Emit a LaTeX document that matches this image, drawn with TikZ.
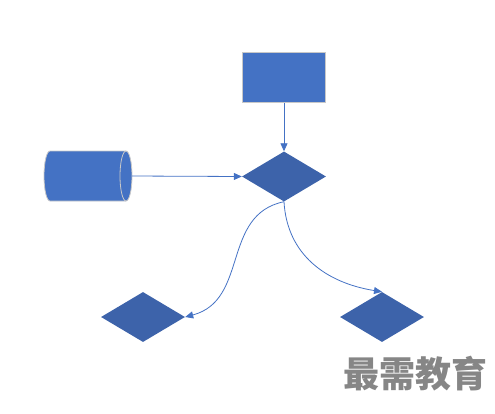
\documentclass[tikz,border=0pt]{standalone}
\usepackage{fontspec}
\newfontfamily\cjk{Noto Sans CJK SC}
\usetikzlibrary{shapes.geometric,arrows.meta}
\definecolor{bleu}{HTML}{4472C4}
\definecolor{bleufonce}{HTML}{3D63AA}
\definecolor{bordgris}{HTML}{C8C8C8}
\begin{document}
\begin{tikzpicture}[x=1pt,y=-1pt,
    boite/.style={rectangle, fill=bleu, draw=bordgris, line width=0.8pt,
      minimum width=83pt, minimum height=50pt, inner sep=0pt},
    losange/.style={diamond, fill=bleufonce, minimum width=84pt,
      minimum height=50pt, inner sep=0pt},
    bout/.style={x radius=6, y radius=25},
    fleche/.style={draw=bleu, line width=0.8pt, -{Triangle[length=8pt,width=7pt]}}]
  \useasboundingbox (0,0) rectangle (495,413);
  % Formes
  \node[boite] (rect) at (284,77.5) {};
  \node[losange] (centre) at (284,176.5) {};
  \node[losange] (gauche) at (143,317) {};
  \node[losange] (droite) at (382,317) {};
  % Cylindre couche
  \draw[fill=bleu, draw=bordgris, line width=0.8pt] (50,151) -- (126,151)
    arc[start angle=-90, end angle=90, bout] -- (50,201)
    arc[start angle=90, end angle=270, bout] -- cycle;
  \draw[draw=bordgris, line width=0.8pt] (126,151) arc[start angle=270, end angle=90, bout];
  \coordinate (cyl) at (132,176);
  % Connecteurs droits
  \draw[fleche] (rect.south) -- (centre.north);
  \draw[fleche] (cyl) -- (centre.west);
  % Connecteurs courbes
  \draw[fleche] (centre.south) .. controls +(-63,13) and +(64,-17) .. (gauche.east);
  \draw[fleche] (centre.south) .. controls +(3,53) and +(-56,-9) .. (droite.north);
  % Filigrane
  \node[text=gray!95, font=\cjk\bfseries\fontsize{36}{36}\selectfont, inner sep=0pt] (marque) at (415,374) {最需教育};
\end{tikzpicture}
\end{document}
